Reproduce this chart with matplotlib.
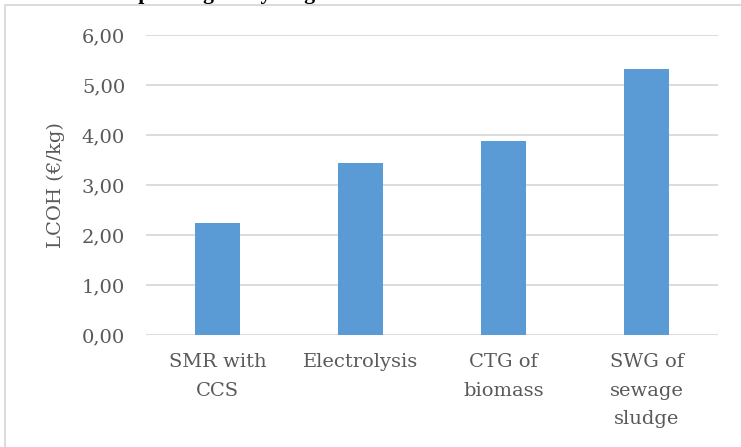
import matplotlib.pyplot as plt
from matplotlib.patches import Rectangle
from matplotlib.ticker import FuncFormatter

# data
categories = ["SMR with\nCCS", "Electrolysis", "CTG of\nbiomass", "SWG of\nsewage\nsludge"]
lcoh = [2.25, 3.45, 3.89, 5.33]
y_ticks = [0, 1, 2, 3, 4, 5, 6]
title = "LCOH depending on hydrogen source"

SERIF = ["DejaVu Serif"]
TITLE_FONT = ["Liberation Serif", "DejaVu Serif"]
GREY_TXT = "#595959"
GRID = "#d9d9d9"
BAR = "#5b9bd5"

W, H = 741, 447
fig = plt.figure(figsize=(W / 100, H / 100), dpi=100)
fig.patch.set_facecolor("white")

# chart frame (only top/left edges fall inside the image)
fig.patches.append(Rectangle((5 / W, -0.5), 1.5, 1.5 - 5 / H, transform=fig.transFigure,
                             fill=False, edgecolor=GRID, linewidth=1.3, clip_on=False))

ax = fig.add_axes([146 / W, 112 / H, 572 / W, 300 / H])
x = list(range(len(categories)))
ax.bar(x, lcoh, width=0.315, color=BAR, zorder=3)
ax.set_xlim(-0.5, len(categories) - 0.5)
ax.set_ylim(0, 6)
ax.set_yticks(y_ticks)
ax.yaxis.set_major_formatter(FuncFormatter(lambda v, p: f"{v:.2f}".replace(".", ",")))
ax.set_xticks(x)
ax.set_xticklabels(categories, linespacing=1.75)
ax.grid(axis="y", color=GRID, linewidth=1.3, zorder=0)
for s in ax.spines.values():
    s.set_visible(False)
ax.tick_params(axis="both", length=0, labelsize=14, labelcolor=GREY_TXT, labelfontfamily=SERIF)
ax.tick_params(axis="y", pad=15)
ax.tick_params(axis="x", pad=13)
ax.set_ylabel("LCOH (€/kg)", fontsize=14, color=GREY_TXT, family=SERIF, labelpad=12)

# title sits above the image; only its descenders show
renderer = fig.canvas.get_renderer()


def text_w(s, size):
    t = fig.text(0, 0, s, fontsize=size, fontweight="bold", family=TITLE_FONT)
    w = t.get_window_extent(renderer).width
    t.remove()
    return w


tsize = 10 * 166 / text_w("pending on hydro", 10)
pre_w = text_w("LCOH de", tsize)
fig.text((142 - pre_w - 4) / W, 1 + 1.5 / H, title, fontsize=tsize, fontweight="bold",
         family=TITLE_FONT, color="black", va="baseline", ha="left")

fig.savefig("out.png", dpi=100)
